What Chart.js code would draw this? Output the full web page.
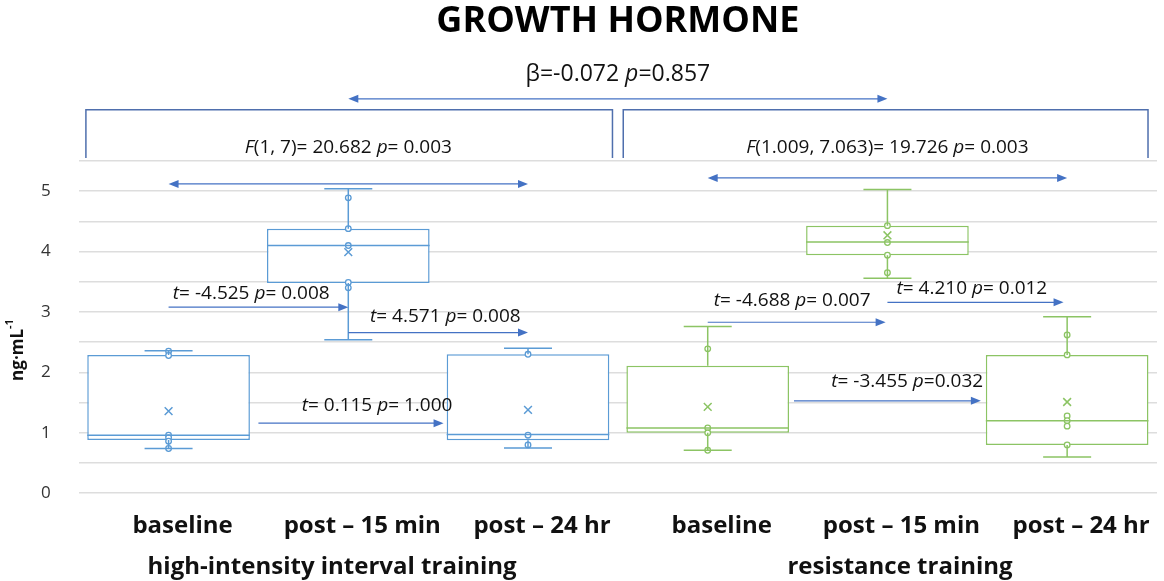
<!DOCTYPE html>
<html>
<head>
<meta charset="utf-8">
<script src="https://cdn.jsdelivr.net/npm/chart.js@4.4.1/dist/chart.umd.min.js"></script>
<style>
  html, body { margin: 0; padding: 0; background: #fff; }
  #wrap { width: 1164px; height: 581px; }
</style>
</head>
<body>
<div id="wrap"><canvas id="grafico"></canvas></div>
<script>
// categories and groups
const categories = ["baseline", "post – 15 min", "post – 24 hr", "baseline", "post – 15 min", "post – 24 hr"];
const groups = ["high-intensity interval training", "resistance training"];
const yTicks = [0, 1, 2, 3, 4, 5];

// box plot values (ng·mL-1)
const q1 = [0.88, 3.48, 0.875, 1.0, 3.94, 0.80];
const q3 = [2.29, 4.38, 2.30, 2.11, 4.43, 2.29];
const medians = [0.96, 4.10, 0.97, 1.08, 4.16, 1.20];
const means = [1.36, 3.99, 1.38, 1.43, 4.27, 1.51];
const whiskerLow = [0.74, 2.54, 0.75, 0.71, 3.56, 0.60];
const whiskerHigh = [2.36, 5.04, 2.40, 2.76, 5.03, 2.92];
const points = [
  [2.35, 2.28, 0.96, 0.92, 0.86, 0.74],
  [4.89, 4.38, 4.10, 3.49, 3.40],
  [2.30, 0.96, 0.80],
  [2.39, 1.08, 1.00, 0.71],
  [4.43, 4.15, 3.94, 3.65],
  [2.62, 2.29, 1.28, 1.20, 1.11, 0.80],
];

// statistics text
const betaText = [["β=-0.072 ", false], ["p", true], ["=0.857", false]];
const anovaText = [
  [["F", true], ["(1, 7)= 20.682 ", false], ["p", true], ["= 0.003", false]],
  [["F", true], ["(1.009, 7.063)= 19.726 ", false], ["p", true], ["= 0.003", false]],
];
// t-tests: [from index, to index, arrow y, text x, text y, parts]
const tTests = [
  [0, 1, 3.08, 0.46, 3.30, [["t", true], ["= -4.525 ", false], ["p", true], ["= 0.008", false]]],
  [1, 2, 2.66, 1.54, 2.92, [["t", true], ["= 4.571 ", false], ["p", true], ["= 0.008", false]]],
  [0.5, 1.53, 1.16, 1.16, 1.45, [["t", true], ["= 0.115 ", false], ["p", true], ["= 1.000", false]]],
  [3, 3.99, 2.83, 3.47, 3.19, [["t", true], ["= -4.688 ", false], ["p", true], ["= 0.007", false]]],
  [4, 4.98, 3.16, 4.47, 3.39, [["t", true], ["= 4.210 ", false], ["p", true], ["= 0.012", false]]],
  [3.48, 4.52, 1.53, 4.11, 1.84, [["t", true], ["= -3.455 ", false], ["p", true], ["=0.032", false]]],
];

const azul = "#5b9bd5";
const verde = "#8cc464";
const seta = "#4472c4";
const chave = "#4f6fad";
const cores = categories.map((c, i) => (i < 3 ? azul : verde));
const fonte = "'Open Sans', 'Noto Sans', sans-serif";

var pontos = [];
var corPontos = [];
points.forEach(function (lista, i) {
  lista.forEach(function (v) {
    pontos.push({ x: i, y: v });
    corPontos.push(cores[i]);
  });
});

function textoRico(ctx, partes, cx, y, size, weight) {
  var total = 0;
  partes.forEach(function (p) {
    ctx.font = (p[1] ? "italic " : "") + weight + " " + size + "px " + fonte;
    total += ctx.measureText(p[0]).width;
  });
  var x = cx - total / 2;
  ctx.textAlign = "left";
  ctx.textBaseline = "middle";
  partes.forEach(function (p) {
    ctx.font = (p[1] ? "italic " : "") + weight + " " + size + "px " + fonte;
    ctx.fillText(p[0], x, y);
    x += ctx.measureText(p[0]).width;
  });
}

function ponta(ctx, x, y, dir) {
  ctx.beginPath();
  ctx.moveTo(x, y);
  ctx.lineTo(x - dir * 10, y - 4);
  ctx.lineTo(x - dir * 10, y + 4);
  ctx.closePath();
  ctx.fill();
}

function flecha(ctx, x1, x2, y, dupla) {
  ctx.strokeStyle = seta;
  ctx.fillStyle = seta;
  ctx.lineWidth = 1.2;
  ctx.beginPath();
  ctx.moveTo(x1 + (dupla ? 4 : 0), y);
  ctx.lineTo(x2 - 4, y);
  ctx.stroke();
  ponta(ctx, x2, y, 1);
  if (dupla) ponta(ctx, x1, y, -1);
}

const boxPlugin = {
  id: "boxplot",
  afterDatasetsDraw(chart) {
    const ctx = chart.ctx;
    const ys = chart.scales.y;
    const meta = chart.getDatasetMeta(0);
    ctx.save();
    meta.data.forEach(function (bar, i) {
      const x = bar.x;
      const half = bar.width / 2;
      ctx.strokeStyle = cores[i];
      ctx.lineWidth = 1.5;
      ctx.beginPath();
      // median
      ctx.moveTo(x - half, ys.getPixelForValue(medians[i]));
      ctx.lineTo(x + half, ys.getPixelForValue(medians[i]));
      // whiskers
      ctx.moveTo(x, ys.getPixelForValue(q3[i]));
      ctx.lineTo(x, ys.getPixelForValue(whiskerHigh[i]));
      ctx.moveTo(x, ys.getPixelForValue(q1[i]));
      ctx.lineTo(x, ys.getPixelForValue(whiskerLow[i]));
      ctx.moveTo(x - 24, ys.getPixelForValue(whiskerHigh[i]));
      ctx.lineTo(x + 24, ys.getPixelForValue(whiskerHigh[i]));
      ctx.moveTo(x - 24, ys.getPixelForValue(whiskerLow[i]));
      ctx.lineTo(x + 24, ys.getPixelForValue(whiskerLow[i]));
      ctx.stroke();
    });
    ctx.restore();
  },
  afterDraw(chart) {
    const ctx = chart.ctx;
    const xs = chart.scales.x2;
    const ys = chart.scales.y;
    const area = chart.chartArea;
    const meio = (area.left + area.right) / 2;
    const px = function (v) {
      return xs.getPixelForValue(v);
    };
    ctx.save();
    ctx.fillStyle = "#000";
    ctx.textAlign = "center";
    ctx.textBaseline = "middle";
    ctx.font = "bold 36px " + fonte;
    ctx.fillText("GROWTH HORMONE", meio, 22);

    ctx.fillStyle = "#111";
    textoRico(ctx, betaText, meio, ys.getPixelForValue(6.93), 23, "normal");
    flecha(ctx, px(1), px(4), ys.getPixelForValue(6.53), true);

    // brackets
    ctx.strokeStyle = chave;
    ctx.lineWidth = 1.5;
    var b1 = px(-0.46), b2 = px(2.47), b3 = px(2.53), b4 = px(5.45);
    var yt = ys.getPixelForValue(6.35), yb = ys.getPixelForValue(5.55);
    ctx.beginPath();
    ctx.moveTo(b1, yb); ctx.lineTo(b1, yt); ctx.lineTo(b2, yt); ctx.lineTo(b2, yb);
    ctx.moveTo(b3, yb); ctx.lineTo(b3, yt); ctx.lineTo(b4, yt); ctx.lineTo(b4, yb);
    ctx.stroke();

    ctx.fillStyle = "#111";
    textoRico(ctx, anovaText[0], px(1), ys.getPixelForValue(5.73), 19, "normal");
    textoRico(ctx, anovaText[1], px(4), ys.getPixelForValue(5.73), 19, "normal");

    flecha(ctx, px(0), px(2), ys.getPixelForValue(5.12), true);
    flecha(ctx, px(3), px(5), ys.getPixelForValue(5.22), true);

    tTests.forEach(function (t) {
      flecha(ctx, px(t[0]), px(t[1]), ys.getPixelForValue(t[2]), false);
      ctx.fillStyle = "#111";
      textoRico(ctx, t[5], px(t[3]), ys.getPixelForValue(t[4]), 19, "normal");
    });

    // group labels
    ctx.fillStyle = "#111";
    ctx.textAlign = "center";
    ctx.textBaseline = "middle";
    ctx.font = "bold 24px " + fonte;
    ctx.fillText(groups[0], px(0.91), 567);
    ctx.fillText(groups[1], px(4.07), 567);

    // y axis title
    ctx.translate(18, 350);
    ctx.rotate(-Math.PI / 2);
    ctx.font = "bold 17px " + fonte;
    ctx.textAlign = "left";
    var w = ctx.measureText("ng·mL").width;
    ctx.font = "bold 11px " + fonte;
    var w2 = ctx.measureText("-1").width;
    var x0 = -(w + w2) / 2;
    ctx.font = "bold 17px " + fonte;
    ctx.fillText("ng·mL", x0, 0);
    ctx.font = "bold 11px " + fonte;
    ctx.fillText("-1", x0 + w, -8);
    ctx.restore();
  },
};

const ctx = document.getElementById("grafico");

new Chart(ctx, {
  data: {
    labels: categories,
    datasets: [
      {
        type: "bar",
        data: q1.map((v, i) => [v, q3[i]]),
        backgroundColor: "#ffffff",
        borderColor: cores,
        borderWidth: 1.5,
        borderSkipped: false,
        grouped: false,
        barPercentage: 0.905,
        categoryPercentage: 1,
        order: 2,
      },
      {
        type: "scatter",
        xAxisID: "x2",
        data: pontos,
        pointStyle: "circle",
        pointRadius: 2.8,
        pointBackgroundColor: "#ffffff",
        pointBorderColor: corPontos,
        pointBorderWidth: 1.3,
        order: 0,
      },
      {
        type: "scatter",
        xAxisID: "x2",
        data: means.map((v, i) => ({ x: i, y: v })),
        pointStyle: "crossRot",
        pointRadius: 5.5,
        pointBorderColor: cores,
        pointBorderWidth: 1.5,
        order: 1,
      },
    ],
  },
  options: {
    responsive: true,
    maintainAspectRatio: false,
    animation: false,
    layout: {
      padding: { top: 161, right: 4, bottom: 29, left: 13 },
    },
    scales: {
      x: {
        type: "category",
        offset: true,
        grid: { display: false },
        border: { display: false },
        ticks: {
          color: "#111",
          padding: 11,
          labelOffset: 14,
          font: { family: fonte, size: 24, weight: "bold" },
        },
      },
      x2: {
        type: "linear",
        display: false,
        min: -0.5,
        max: 5.5,
      },
      y: {
        min: 0,
        max: 5.5,
        afterBuildTicks: function (axis) {
          var t = [];
          for (var i = 0; i <= 11; i++) t.push({ value: i * 0.5 });
          axis.ticks = t;
        },
        grid: { color: "#dddddd", lineWidth: 1.5, drawTicks: false },
        border: { display: false },
        ticks: {
          color: "#333",
          padding: 28,
          font: { family: fonte, size: 17 },
          callback: function (v) {
            return yTicks.indexOf(v) >= 0 ? String(v) : "";
          },
        },
      },
    },
    plugins: {
      legend: { display: false },
      tooltip: { enabled: false },
    },
  },
  plugins: [boxPlugin],
});
</script>
</body>
</html>
